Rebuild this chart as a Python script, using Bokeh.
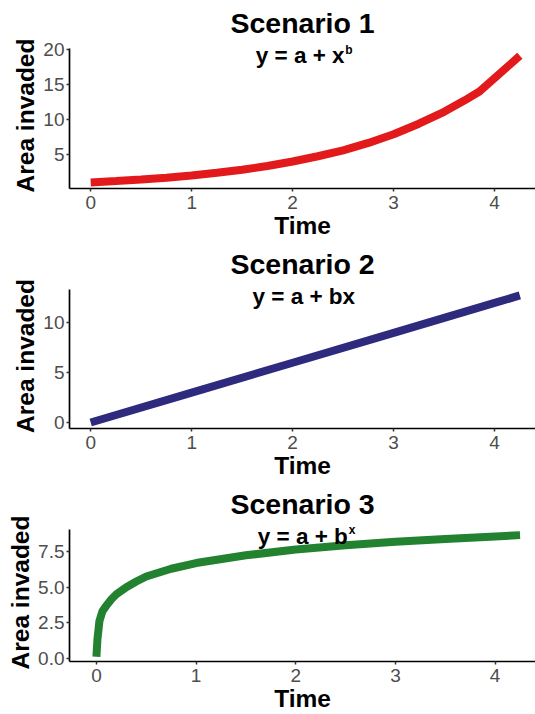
from bokeh.plotting import figure
from bokeh.layouts import column
from bokeh.models import Label, Range1d, FixedTicker, PrintfTickFormatter, Title
from bokeh.embed import file_html
from bokeh.resources import INLINE

# ---- data ----
time1 = [0, 0.25, 0.5, 0.75, 1, 1.25, 1.5, 1.75, 2, 2.25, 2.5, 2.75, 3, 3.25, 3.5, 3.7, 3.85, 4.25]
area1 = [1.0, 1.2, 1.42, 1.68, 2.0, 2.38, 2.82, 3.35, 4.0, 4.75, 5.6, 6.65, 7.9, 9.4, 11.1, 12.7, 14.0, 19.1]

time2 = [0, 1, 2, 3, 4, 4.25]
area2 = [0, 3, 6, 9, 12, 12.75]

time3 = [0, 0.01, 0.03, 0.06, 0.1, 0.15, 0.2, 0.3, 0.4, 0.5, 0.75, 1, 1.5, 2, 2.5, 3, 3.5, 4, 4.25]
area3 = [0.1, 1.3, 2.6, 3.3, 3.7, 4.15, 4.5, 5.0, 5.4, 5.75, 6.3, 6.7, 7.25, 7.65, 7.95, 8.2, 8.4, 8.58, 8.67]

titles = ["Scenario 1", "Scenario 2", "Scenario 3"]
sub_main = ["y = a + x", "y = a + bx", "y = a + b"]
sub_sup = ["b", "", "x"]
colors = ["#E31A1C", "#2E2A7E", "#228230"]
xticks = [0, 1, 2, 3, 4]
yticks1 = [5, 10, 15, 20]
yticks2 = [0, 5, 10]
yticks3 = [0, 2.5, 5, 7.5]

FONT = "Liberation Sans"


def panel(x, y, color, xr, yr, ytop, yticks, fmt, height, bottom, title, smain, ssup, main_off, sup_off):
    # yr: visible y range (frame); ytop: where the y axis line ends
    p = figure(width=535, height=height,
               x_range=Range1d(*xr), y_range=Range1d(*yr),
               output_backend="svg", toolbar_location=None,
               min_border_left=69, min_border_right=0,
               min_border_top=42, min_border_bottom=bottom)
    p.title = Title(text=title, align="center", text_font=FONT,
                    text_font_size="28.5px", text_font_style="bold",
                    text_color="black", standoff=7)
    p.line(x, y, line_color=color, line_width=8)
    p.xgrid.visible = False
    p.ygrid.visible = False
    p.outline_line_color = None
    p.background_fill_color = "white"
    p.border_fill_color = "white"

    for ax in (p.xaxis[0], p.yaxis[0]):
        ax.axis_line_color = "black"
        ax.axis_line_width = 1.7
        ax.major_tick_line_color = "#333333"
        ax.major_tick_line_width = 1.5
        ax.major_tick_out = 3
        ax.major_tick_in = 0
        ax.minor_tick_line_color = None
        ax.major_label_text_font = FONT
        ax.major_label_text_font_size = "19px"
        ax.major_label_text_color = "#4D4D4D"
        ax.axis_label_text_font = FONT
        ax.axis_label_text_font_size = "24.5px"
        ax.axis_label_text_font_style = "bold"
        ax.axis_label_text_color = "black"

    p.yaxis.bounds = (yr[0], ytop)
    p.xaxis.ticker = FixedTicker(ticks=xticks)
    p.yaxis.ticker = FixedTicker(ticks=yticks)
    if fmt:
        p.yaxis.formatter = PrintfTickFormatter(format=fmt)
    p.xaxis.axis_label = "Time"
    p.yaxis.axis_label = "Area invaded"
    p.xaxis.major_label_standoff = 4
    p.xaxis.axis_label_standoff = 0
    p.yaxis.major_label_standoff = 2
    p.yaxis.axis_label_standoff = 1

    if ssup:
        p.add_layout(Label(x=2.11, y=ytop, text=smain, text_align="left",
                           text_baseline="alphabetic", x_offset=main_off, y_offset=-7,
                           text_font=FONT, text_font_size="22.5px",
                           text_font_style="bold", text_color="black"))
        p.add_layout(Label(x=2.11, y=ytop, text=ssup, text_align="left",
                           text_baseline="alphabetic", x_offset=sup_off, y_offset=-1,
                           text_font=FONT, text_font_size="12px",
                           text_font_style="bold", text_color="black"))
    else:
        p.add_layout(Label(x=2.11, y=ytop, text=smain, text_align="center",
                           text_baseline="alphabetic", y_offset=-7,
                           text_font=FONT, text_font_size="22.5px",
                           text_font_style="bold", text_color="black"))
    return p


p1 = panel(time1, area1, colors[0], (-0.21, 4.405), (0.14, 21.0), 20.14, yticks1, None, 241, 53,
           titles[0], sub_main[0], sub_sup[0], -48, 41.5)
p2 = panel(time2, area2, colors[1], (-0.21, 4.405), (-0.6, 13.95), 13.35, yticks2, None, 240, 53,
           titles[1], sub_main[1], sub_sup[1], 0, 0)
p3 = panel(time3, area3, colors[2], (-0.27, 4.405), (-0.24, 9.49), 9.08, yticks3, "%.1f", 233, 49,
           titles[2], sub_main[2], sub_sup[2], -49, 42)

layout = column(p1, p2, p3, spacing=0)

with open("out.html", "w") as f:
    f.write(file_html(layout, INLINE))
